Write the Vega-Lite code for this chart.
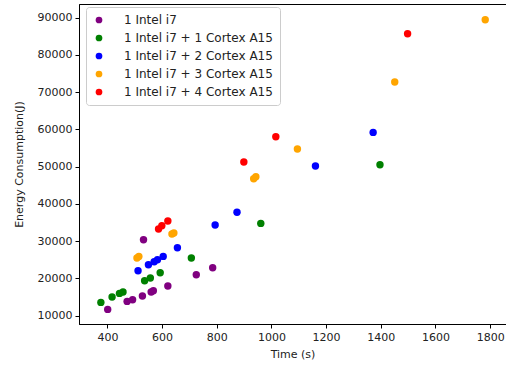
{
  "$schema": "https://vega.github.io/schema/vega-lite/v6.json",
  "width": 427,
  "height": 320,
  "autosize": {"type": "none"},
  "padding": {"left": 79, "top": 4, "right": 0, "bottom": 41},
  "background": "white",
  "config": {
    "font": "DejaVu Sans",
    "view": {"stroke": "#000", "strokeWidth": 1},
    "axis": {
      "grid": false,
      "domainColor": "#000",
      "tickColor": "#000",
      "tickSize": 4,
      "labelFontSize": 11,
      "labelColor": "#222",
      "titleFontSize": 11,
      "titleFontWeight": "normal",
      "titleColor": "#222",
      "labelPadding": 3
    }
  },
  "data": {
    "values": [
      {"series": "1 Intel i7", "time": 401, "energy": 11690},
      {"series": "1 Intel i7", "time": 472, "energy": 13840},
      {"series": "1 Intel i7", "time": 492, "energy": 14300},
      {"series": "1 Intel i7", "time": 528, "energy": 15290},
      {"series": "1 Intel i7", "time": 560, "energy": 16360},
      {"series": "1 Intel i7", "time": 568, "energy": 16710},
      {"series": "1 Intel i7", "time": 621, "energy": 17970},
      {"series": "1 Intel i7", "time": 725, "energy": 21010},
      {"series": "1 Intel i7", "time": 785, "energy": 22890},
      {"series": "1 Intel i7", "time": 532, "energy": 30400},
      {"series": "1 Intel i7 + 1 Cortex A15", "time": 376, "energy": 13570},
      {"series": "1 Intel i7 + 1 Cortex A15", "time": 417, "energy": 15020},
      {"series": "1 Intel i7 + 1 Cortex A15", "time": 444, "energy": 15990},
      {"series": "1 Intel i7 + 1 Cortex A15", "time": 457, "energy": 16360},
      {"series": "1 Intel i7 + 1 Cortex A15", "time": 536, "energy": 19400},
      {"series": "1 Intel i7 + 1 Cortex A15", "time": 557, "energy": 20120},
      {"series": "1 Intel i7 + 1 Cortex A15", "time": 593, "energy": 21540},
      {"series": "1 Intel i7 + 1 Cortex A15", "time": 707, "energy": 25490},
      {"series": "1 Intel i7 + 1 Cortex A15", "time": 961, "energy": 34780},
      {"series": "1 Intel i7 + 1 Cortex A15", "time": 1397, "energy": 50540},
      {"series": "1 Intel i7 + 2 Cortex A15", "time": 512, "energy": 22080},
      {"series": "1 Intel i7 + 2 Cortex A15", "time": 550, "energy": 23690},
      {"series": "1 Intel i7 + 2 Cortex A15", "time": 571, "energy": 24500},
      {"series": "1 Intel i7 + 2 Cortex A15", "time": 583, "energy": 25030},
      {"series": "1 Intel i7 + 2 Cortex A15", "time": 604, "energy": 25920},
      {"series": "1 Intel i7 + 2 Cortex A15", "time": 656, "energy": 28250},
      {"series": "1 Intel i7 + 2 Cortex A15", "time": 794, "energy": 34350},
      {"series": "1 Intel i7 + 2 Cortex A15", "time": 874, "energy": 37790},
      {"series": "1 Intel i7 + 2 Cortex A15", "time": 1161, "energy": 50190},
      {"series": "1 Intel i7 + 2 Cortex A15", "time": 1372, "energy": 59210},
      {"series": "1 Intel i7 + 3 Cortex A15", "time": 508, "energy": 25490},
      {"series": "1 Intel i7 + 3 Cortex A15", "time": 515, "energy": 25920},
      {"series": "1 Intel i7 + 3 Cortex A15", "time": 636, "energy": 31930},
      {"series": "1 Intel i7 + 3 Cortex A15", "time": 643, "energy": 32200},
      {"series": "1 Intel i7 + 3 Cortex A15", "time": 935, "energy": 46780},
      {"series": "1 Intel i7 + 3 Cortex A15", "time": 943, "energy": 47320},
      {"series": "1 Intel i7 + 3 Cortex A15", "time": 1095, "energy": 54750},
      {"series": "1 Intel i7 + 3 Cortex A15", "time": 1451, "energy": 72740},
      {"series": "1 Intel i7 + 3 Cortex A15", "time": 1782, "energy": 89460},
      {"series": "1 Intel i7 + 4 Cortex A15", "time": 587, "energy": 33270},
      {"series": "1 Intel i7 + 4 Cortex A15", "time": 599, "energy": 34160},
      {"series": "1 Intel i7 + 4 Cortex A15", "time": 621, "energy": 35420},
      {"series": "1 Intel i7 + 4 Cortex A15", "time": 899, "energy": 51260},
      {"series": "1 Intel i7 + 4 Cortex A15", "time": 1016, "energy": 58050},
      {"series": "1 Intel i7 + 4 Cortex A15", "time": 1498, "energy": 85700}
    ]
  },
  "mark": {"type": "point", "filled": true, "opacity": 1, "size": 55, "shape": "circle"},
  "encoding": {
    "x": {
      "field": "time",
      "type": "quantitative",
      "title": "Time (s)",
      "scale": {"domain": [296, 1858], "nice": false, "zero": false},
      "axis": {"values": [400, 600, 800, 1000, 1200, 1400, 1600, 1800], "format": "d", "titlePadding": 6}
    },
    "y": {
      "field": "energy",
      "type": "quantitative",
      "title": "Energy Consumption(J)",
      "scale": {"domain": [7770, 93680], "nice": false, "zero": false},
      "axis": {"values": [10000, 20000, 30000, 40000, 50000, 60000, 70000, 80000, 90000], "format": "d", "titlePadding": 13}
    },
    "color": {
      "field": "series",
      "type": "nominal",
      "title": null,
      "scale": {
        "domain": ["1 Intel i7", "1 Intel i7 + 1 Cortex A15", "1 Intel i7 + 2 Cortex A15", "1 Intel i7 + 3 Cortex A15", "1 Intel i7 + 4 Cortex A15"],
        "range": ["#800080", "#008000", "#0000ff", "#ffa500", "#ff0000"]
      },
      "legend": {
        "orient": "none",
        "legendX": 7,
        "legendY": 3,
        "padding": 7,
        "fillColor": "rgba(255,255,255,0.8)",
        "strokeColor": "#cccccc",
        "cornerRadius": 3,
        "labelFontSize": 12,
        "labelColor": "#222",
        "symbolSize": 45,
        "symbolType": "circle",
        "symbolStrokeWidth": 0,
        "labelOffset": 19,
        "rowPadding": 6,
        "symbolOffset": 0
      }
    }
  }
}
